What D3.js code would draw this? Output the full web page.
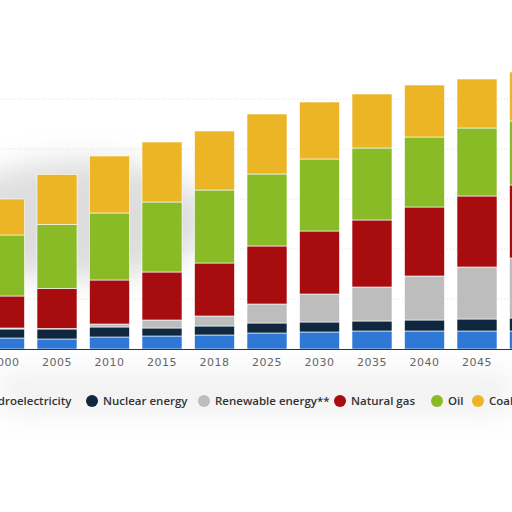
<!DOCTYPE html>
<html>
<head>
<meta charset="utf-8">
<script src="https://cdn.jsdelivr.net/npm/d3@7"></script>
<style>
  body { margin: 0; background: #fff; }
</style>
</head>
<body>
<div class="chart__container"></div>
<script>
const years = ["2000", "2005", "2010", "2015", "2018", "2025", "2030", "2035", "2040", "2045", "2050"];
const series = ["Hydroelectricity", "Nuclear energy", "Renewable energy**", "Natural gas", "Oil", "Coal"];
const colors = ["#2f78d6", "#0f2840", "#bdbdbd", "#a70d0f", "#89bb27", "#ecb526"];

// values (relative units)
const hydro = [11, 10, 12, 13, 14, 16, 17, 18, 18, 18, 18];
const nuclear = [9, 10, 10, 8, 9, 10, 10, 10, 11, 12, 13];
const renewable = [1, 0.5, 3, 8, 10, 19, 28, 34, 44, 52, 60];
const gas = [32, 40, 44, 48, 53, 58, 63, 67, 69, 71, 73];
const oil = [61, 64, 67, 70, 73, 72, 72, 72, 70, 68, 64];
const coal = [36, 50, 57, 60, 59, 60, 57, 54, 52, 49, 49];

const width = 512, height = 512;
const svg = d3.select(".chart__container").append("svg")
  .attr("width", width).attr("height", height);

// soft gray smear behind the plot
const defs = svg.append("defs");
const blur = defs.append("filter").attr("id", "blur").attr("x", "-50%").attr("y", "-50%").attr("width", "200%").attr("height", "200%");
blur.append("feGaussianBlur").attr("stdDeviation", 14);
svg.append("ellipse").attr("cx", 80).attr("cy", 220).attr("rx", 130).attr("ry", 60)
  .attr("fill", "#c8c8c8").attr("opacity", 0.6).attr("filter", "url(#blur)");
svg.append("rect").attr("x", 0).attr("y", 370).attr("width", 512).attr("height", 45)
  .attr("fill", "#ececec").attr("opacity", 0.7).attr("filter", "url(#blur)");

const rows = years.map((y, i) => ({
  year: y,
  "Hydroelectricity": hydro[i],
  "Nuclear energy": nuclear[i],
  "Renewable energy**": renewable[i],
  "Natural gas": gas[i],
  "Oil": oil[i],
  "Coal": coal[i]
}));
const stacked = d3.stack().keys(series)(rows);

const x = d3.scaleBand().domain(years).range([-15.5, 549.5]).paddingInner(0.238).paddingOuter(0);
const y = d3.scaleLinear().domain([0, 300]).range([349, 49]);

// faint dotted gridlines
svg.append("g").selectAll("line").data([50, 100, 150, 200, 250]).join("line")
  .attr("x1", 0).attr("x2", width).attr("y1", d => y(d)).attr("y2", d => y(d))
  .attr("stroke", "#ddd").attr("stroke-dasharray", "1,2");

svg.append("g").selectAll("g").data(stacked).join("g")
  .attr("fill", (d, i) => colors[i])
  .selectAll("rect").data(d => d).join("rect")
  .attr("x", d => x(d.data.year))
  .attr("width", x.bandwidth())
  .attr("y", d => y(d[1]))
  .attr("height", d => Math.max(0, y(d[0]) - y(d[1])))
  .attr("stroke", "#fff").attr("stroke-width", 0.6);

const xAxis = svg.append("g").attr("transform", `translate(0,${y(0)})`)
  .call(d3.axisBottom(x).tickSize(0).tickPadding(9));
xAxis.select(".domain").attr("stroke", "#333");
xAxis.selectAll("text").attr("fill", "#666").attr("font-size", 11)
  .attr("font-family", "DejaVu Sans").attr("letter-spacing", 0.5);

// legend
const legendX = [-28, 92, 204, 340, 437, 478];
const legend = svg.append("g").selectAll("g").data(series).join("g")
  .attr("transform", (d, i) => `translate(${legendX[i]},401)`);
legend.append("circle").attr("r", 6).attr("fill", (d, i) => colors[i]);
legend.append("text").attr("x", 11).attr("dy", "0.35em")
  .attr("font-size", 11.5).attr("font-family", "Open Sans").attr("font-weight", 600)
  .attr("fill", "#333").text(d => d);
</script>
</body>
</html>
